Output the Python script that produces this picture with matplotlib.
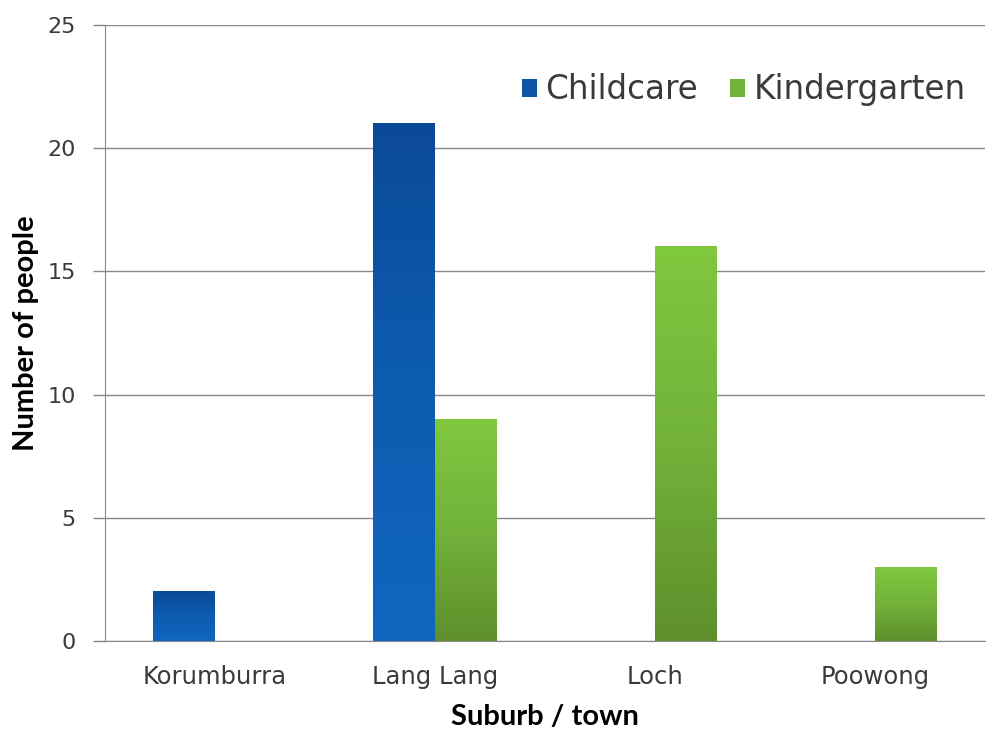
import matplotlib
matplotlib.use("Agg")
import matplotlib.pyplot as plt
import numpy as np
from matplotlib.colors import LinearSegmentedColormap

# data
suburbs = ["Korumburra", "Lang Lang", "Loch", "Poowong"]
childcare = [2, 21, 0, 0]
kindergarten = [0, 9, 16, 3]

plt.rcParams['font.family'] = ['DejaVu Sans']

fig = plt.figure(figsize=(9.87, 7.31), dpi=100)
ax = fig.add_axes([0.106, 0.123, 0.892, 0.843])

x = np.arange(len(suburbs))
w = 0.28
bars_c = ax.bar(x - w / 2, childcare, w, color="#0d56a6", label="Childcare", zorder=3)
bars_k = ax.bar(x + w / 2, kindergarten, w, color="#6fb33a", label="Kindergarten", zorder=3)

# gradient fill over each bar (vertical shading like the original)
cm_c = LinearSegmentedColormap.from_list("c", ["#0b4a98", "#0d5cb0", "#1166c0"])
cm_k = LinearSegmentedColormap.from_list("k", ["#80c83e", "#72b23a", "#5e8f2c"])
grad = np.linspace(0, 1, 256).reshape(-1, 1)
for bars, cm in [(bars_c, cm_c), (bars_k, cm_k)]:
    for b in bars:
        h = b.get_height()
        if h <= 0:
            continue
        x0 = b.get_x()
        ax.imshow(grad, cmap=cm, aspect="auto", zorder=4,
                  extent=(x0, x0 + b.get_width(), 0, h), origin="upper")

ax.set_xlim(-0.5, len(suburbs) - 0.5)
ax.set_ylim(0, 25)
ax.set_yticks(np.arange(0, 26, 5))
ax.set_xticks(x)
ax.set_xticklabels(suburbs, fontsize=17.5, color="#3a3a3a")
ax.tick_params(axis="y", labelsize=16, labelcolor="#3a3a3a", length=9, color="#888888",
               width=1, pad=12)
ax.tick_params(axis="x", length=0, pad=17)
ax.yaxis.grid(True, color="#888888", linewidth=1, zorder=0)
for s in ["top", "right"]:
    ax.spines[s].set_visible(False)
ax.spines["left"].set_color("#888888")
ax.spines["bottom"].set_color("#888888")

ax.set_xlabel("Suburb / town", fontsize=21, fontweight="bold", labelpad=11,
              family=["Lato", "DejaVu Sans"])
ax.set_ylabel("Number of people", fontsize=21, fontweight="bold", labelpad=6,
              family=["Lato", "DejaVu Sans"])

leg = ax.legend(loc="upper right", bbox_to_anchor=(1.0, 0.953), ncol=2, frameon=False,
                fontsize=23.5, handlelength=0.45, handleheight=0.45, handletextpad=0.25,
                columnspacing=1.0, borderaxespad=0.2)
for t in leg.get_texts():
    t.set_color("#3a3a3a")

fig.savefig("out.png", dpi=100)
